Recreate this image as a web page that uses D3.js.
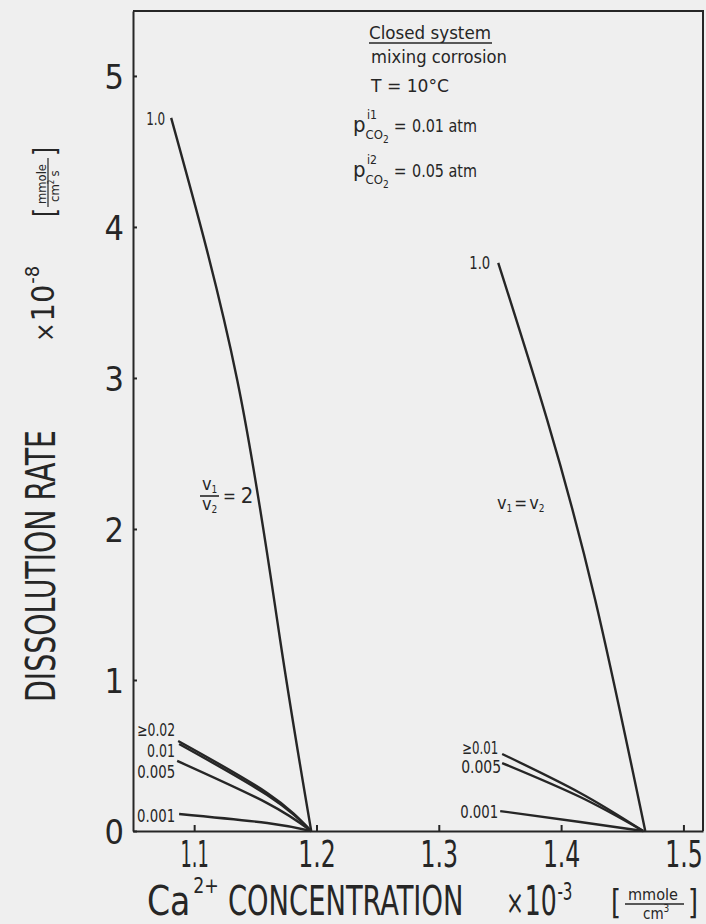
<!DOCTYPE html>
<html>
<head>
<meta charset="utf-8">
<script src="https://cdn.jsdelivr.net/npm/d3@7"></script>
<style>
  html, body { margin: 0; padding: 0; background: #efefef; }
  svg { display: block; }
</style>
</head>
<body>
<div id="chart"></div>
<script>
// Axis ticks
const xTicks = [1.1, 1.2, 1.3, 1.4, 1.5];
const yTicks = [0, 1, 2, 3, 4, 5];

// v1/v2 = 2 family (mixing ratio labels and [Ca, rate] points)
const leftLabels = ["1.0", "≥0.02", "0.01", "0.005", "0.001"];
const leftCurves = [
    [[1.0812, 4.722], [1.1352, 2.987], [1.1703, 1.265], [1.1957, 0]],
    [[1.0869, 0.596], [1.1597, 0.252], [1.1957, 0]],
    [[1.0877, 0.576], [1.1597, 0.238], [1.1957, 0]],
    [[1.0861, 0.464], [1.1597, 0.185], [1.1957, 0]],
    [[1.0877, 0.113], [1.1597, 0.053], [1.1957, 0]]
];

// v1 = v2 family
const rightLabels = ["1.0", "≥0.01", "0.005", "0.001"];
const rightCurves = [
    [[1.3486, 3.762], [1.3886, 2.722], [1.4279, 1.530], [1.4688, 0]],
    [[1.3518, 0.510], [1.4156, 0.252], [1.4671, 0]],
    [[1.3518, 0.450], [1.4156, 0.225], [1.4671, 0]],
    [[1.3502, 0.132], [1.4156, 0.060], [1.4671, 0]]
];

// label placement relative to the first point of each curve [dx, dy, textLength]
const LEFT_LABEL_OFFSETS = [[-6, 1, 19], [-3, -11, 38], [-4, 7, 28], [-2, 11, 38], [-4, 2, 38]];
const RIGHT_LABEL_OFFSETS = [[-8, 0, 21], [-4, -6, 36], [-1, 4, 40], [-2, 1, 38]];

const WIDTH = 706;
const HEIGHT = 924;
const INK = "#262626";
const FONT = "'DejaVu Sans Condensed', 'Liberation Sans Narrow', 'DejaVu Sans', sans-serif";

const svg = d3.select("#chart").append("svg")
    .attr("width", WIDTH)
    .attr("height", HEIGHT)
    .style("font-family", FONT);

svg.append("rect").attr("width", WIDTH).attr("height", HEIGHT).attr("fill", "#efefef");

const xScale = d3.scaleLinear().domain([1.05, 1.516]).range([133, 703]);
const yScale = d3.scaleLinear().domain([0, 5.43]).range([831, 11]);

function label(parent, x, y, str, size, len, anchor) {
    const t = parent.append("text")
        .attr("x", x)
        .attr("y", y)
        .attr("fill", INK)
        .style("font-size", size + "px")
        .attr("text-anchor", anchor || "start")
        .text(str);
    if (len) {
        t.attr("textLength", len).attr("lengthAdjust", "spacingAndGlyphs");
    }
    return t;
}

// text made of pieces: [string, fontSize, dx, dy], squeezed horizontally by sx
function pieces(parent, x, y, parts, sx) {
    const g = parent.append("g").attr("transform", `translate(${x}, ${y}) scale(${sx || 1}, 1)`);
    const t = g.append("text").attr("fill", INK);
    parts.forEach(p => {
        t.append("tspan")
            .style("font-size", p[1] + "px")
            .attr("dx", p[2] || 0)
            .attr("dy", p[3] || 0)
            .text(p[0]);
    });
    return t;
}

// Frame (top and right)
svg.append("path")
    .attr("d", `M${xScale(1.05)},${yScale(5.43)}H${xScale(1.516)}V${yScale(0)}`)
    .attr("fill", "none")
    .attr("stroke", INK)
    .attr("stroke-width", 2);

// Axes
const xAxis = svg.append("g")
    .attr("transform", `translate(0, ${yScale(0)})`)
    .call(d3.axisBottom(xScale).tickValues(xTicks).tickSizeInner(-6).tickSizeOuter(0).tickPadding(9)
        .tickFormat(d3.format(".1f")));

const yAxis = svg.append("g")
    .attr("transform", `translate(${xScale(1.05)}, 0)`)
    .call(d3.axisLeft(yScale).tickValues(yTicks).tickSizeInner(-4).tickSizeOuter(0).tickPadding(9)
        .tickFormat(d3.format("d")));

[xAxis, yAxis].forEach(ax => {
    ax.select(".domain").attr("stroke", INK).attr("stroke-width", 2);
    ax.selectAll(".tick line").attr("stroke", INK).attr("stroke-width", 2);
    ax.selectAll(".tick text").attr("fill", INK).style("font-family", FONT);
});
xAxis.selectAll(".tick text")
    .style("font-size", "38px")
    .attr("transform", d => `scale(${d === 1.1 ? 0.52 : 0.69}, 1)`);
yAxis.selectAll(".tick text")
    .style("font-size", "34px")
    .attr("dy", "0.38em");

// Curves
const line = d3.line()
    .x(d => xScale(d[0]))
    .y(d => yScale(d[1]))
    .curve(d3.curveNatural);

function drawFamily(curves, labels, offsets) {
    const g = svg.append("g");
    g.selectAll("path")
        .data(curves)
        .join("path")
        .attr("d", line)
        .attr("fill", "none")
        .attr("stroke", INK)
        .attr("stroke-width", 2.4)
        .attr("stroke-linejoin", "round");

    g.selectAll("text")
        .data(curves)
        .join("text")
        .attr("x", (c, i) => xScale(c[0][0]) + offsets[i][0])
        .attr("y", (c, i) => yScale(c[0][1]) + offsets[i][1])
        .attr("dy", "0.36em")
        .attr("text-anchor", "end")
        .attr("fill", INK)
        .style("font-size", "17px")
        .attr("textLength", (c, i) => offsets[i][2])
        .attr("lengthAdjust", "spacingAndGlyphs")
        .text((c, i) => labels[i]);
}

drawFamily(leftCurves, leftLabels, LEFT_LABEL_OFFSETS);
drawFamily(rightCurves, rightLabels, RIGHT_LABEL_OFFSETS);

// v1/v2 = 2 annotation
const ann = svg.append("g");
pieces(ann, 202, 490, [["v", 18], ["1", 10, 0, 3]]);
ann.append("line").attr("x1", 200).attr("x2", 219).attr("y1", 496).attr("y2", 496)
    .attr("stroke", INK).attr("stroke-width", 1.6);
pieces(ann, 202, 510, [["v", 18], ["2", 10, 0, 3]]);
pieces(ann, 223, 502, [["=", 17], ["2", 22, 5, 1]]);

// v1 = v2 annotation
pieces(ann, 497, 509, [["v", 18], ["1", 10, 0, 3], ["=", 17, 2, -3], ["v", 18, 2, 0], ["2", 10, 0, 3]]);

// Condition block
const cond = svg.append("g");
label(cond, 369, 39, "Closed system", 18, 122);
cond.append("line").attr("x1", 369).attr("x2", 492).attr("y1", 43).attr("y2", 43)
    .attr("stroke", INK).attr("stroke-width", 1.4);
label(cond, 371, 63, "mixing corrosion", 18, 136);
label(cond, 371, 92, "T = 10°C", 18, 78);

function pco2Row(baseline, sup, value) {
    label(cond, 367, baseline - 13, sup, 12, 10);
    pieces(cond, 353, baseline, [["p", 22], ["CO", 13, 0, 7], ["2", 10, 0, 4], ["=", 17, 5, -11]]);
    label(cond, 412, baseline, value, 18, 65);
}
pco2Row(132, "i1", "0.01 atm");
pco2Row(177, "i2", "0.05 atm");

// X axis title
const xt = svg.append("g");
pieces(xt, 147, 915, [["Ca", 40], ["2+", 21, 3, -22]], 0.92);
pieces(xt, 228, 915, [["CONCENTRATION", 40]], 0.76);
pieces(xt, 506, 915, [["×", 34, 0, -1], ["10", 40, 1, 1], ["-3", 24, 1, -15]], 0.7);
label(xt, 611, 914, "[", 33, 10);
label(xt, 688, 914, "]", 33, 10);
label(xt, 628, 900, "mmole", 16, 50);
xt.append("line").attr("x1", 625).attr("x2", 684).attr("y1", 904).attr("y2", 904)
    .attr("stroke", INK).attr("stroke-width", 1.4);
pieces(xt, 643, 919, [["cm", 15], ["3", 10, 0, -7]]);

// Y axis title (rotated; local x runs upward, local y runs rightward)
const yt = svg.append("g").attr("transform", `translate(0, ${HEIGHT}) rotate(-90)`);
label(yt, 222, 55, "DISSOLUTION RATE", 40, 272);
pieces(yt, 582, 54, [["×", 26], ["10", 32, 1, 0], ["-8", 20, 1, -15]]);
label(yt, 707, 55, "[", 30, 9);
label(yt, 768, 55, "]", 30, 9);
label(yt, 720, 46, "mmole", 13, 40);
yt.append("line").attr("x1", 717).attr("x2", 766).attr("y1", 48).attr("y2", 48)
    .attr("stroke", INK).attr("stroke-width", 1.2);
pieces(yt, 722, 59, [["cm", 13], ["2", 8, 0, -5], ["s", 13, 3, 5]]);
</script>
</body>
</html>
